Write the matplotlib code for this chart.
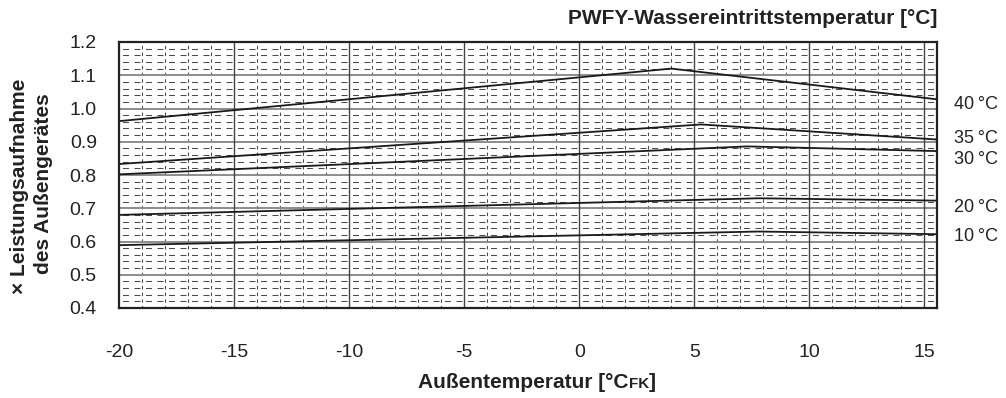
import numpy as np
import matplotlib
matplotlib.use("Agg")
import matplotlib.pyplot as plt

plt.rcParams['font.family'] = ['Liberation Sans', 'DejaVu Sans']
plt.rcParams['lines.scale_dashes'] = False

# Outdoor temperature [°C FK] and power input factors per water inlet temperature
temps_40 = [-20, 4.0, 15.5]
vals_40 = [0.962, 1.120, 1.028]
temps_35 = [-20, 5.3, 15.5]
vals_35 = [0.833, 0.952, 0.907]
temps_30 = [-20, 7.3, 15.5]
vals_30 = [0.802, 0.886, 0.872]
temps_20 = [-20, 7.8, 15.5]
vals_20 = [0.680, 0.730, 0.723]
temps_10 = [-20, 7.8, 15.5]
vals_10 = [0.589, 0.630, 0.622]

series = [("40", temps_40, vals_40), ("35", temps_35, vals_35),
          ("30", temps_30, vals_30), ("20", temps_20, vals_20),
          ("10", temps_10, vals_10)]
series_labels = ["40\u2009°C", "35\u2009°C", "30\u2009°C", "20\u2009°C", "10\u2009°C"]
label_y = [1.013, 0.910, 0.848, 0.702, 0.616]

x_ticks = [-20, -15, -10, -5, 0, 5, 10, 15]
y_ticks = [0.4, 0.5, 0.6, 0.7, 0.8, 0.9, 1.0, 1.1, 1.2]
y_ticklabels = ["0.4", "0.5", "0.6", "0.7", "0.8", "0.9", "1.0", "1.1", "1.2"]

W, H = 1006, 398
fig = plt.figure(figsize=(W / 100, H / 100), dpi=100)
ax = fig.add_axes([119 / W, 1 - 308 / H, (937 - 119) / W, (308 - 42) / H])
ax.set_xlim(-20, 15.55)
ax.set_ylim(0.4, 1.2)

px = 72 / 100  # points per pixel

# minor horizontal grid (every 0.02), short dashes
for v in np.arange(0.42, 1.2, 0.02):
    if abs(v * 10 - round(v * 10)) < 1e-6:
        continue
    ax.axhline(v, color="#4a4a4a", lw=0.75,
               linestyle=(8 * px, (6 * px, 5.5 * px)), zorder=1)

# minor vertical grid (every 1 °C), dashes centred on the horizontal rows
for t in range(-19, 16):
    if t % 5 == 0:
        continue
    ax.axvline(t, color="#4a4a4a", lw=0.75,
               linestyle=(1 * px, (3.5 * px, 3.17 * px)), zorder=1)

# major grid
for v in y_ticks[1:-1]:
    ax.axhline(v, color="#8c8c8c", lw=1.4, zorder=2)
for t in x_ticks[1:]:
    ax.axvline(t, color="#444444", lw=1.0, zorder=2)

for (name, xs, ys) in series:
    ax.plot(xs, ys, color="#1a1a1a", lw=1.3, zorder=3, clip_on=False)

for lab, yv in zip(series_labels, label_y):
    ax.text(15.55 + 0.75, yv, lab, fontsize=13, va="center", ha="left",
            color="#222222")

for s in ax.spines.values():
    s.set_color("#222222")
    s.set_linewidth(1.6)
    s.set_zorder(5)

ax.set_xticks(x_ticks)
ax.set_xticklabels([str(t) for t in x_ticks])
ax.set_yticks(y_ticks)
ax.set_yticklabels(y_ticklabels)
ax.tick_params(axis="both", length=0, labelsize=14, labelcolor="#222222")
ax.tick_params(axis="x", pad=26)
ax.tick_params(axis="y", pad=16)

fig.text(937 / W, 1 - 18 / H, "PWFY-Wassereintrittstemperatur [°C]",
         fontsize=15, fontweight="bold", ha="right", va="center",
         color="#222222")

fig.text(20 / W, 1 - 186 / H, "× Leistungsaufnahme", rotation=90,
         fontsize=15, fontweight="bold", ha="center", va="center",
         color="#222222")
fig.text(44 / W, 1 - 184 / H, "des Außengerätes", rotation=90,
         fontsize=15, fontweight="bold", ha="center", va="center",
         color="#222222")

# x-axis title with the small "FK" index
renderer = fig.canvas.get_renderer()
parts = [("Außentemperatur [°C", 15), ("FK", 11), ("]", 15)]
widths = []
for txt, fs in parts:
    t = fig.text(0, 0, txt, fontsize=fs, fontweight="bold")
    widths.append(t.get_window_extent(renderer).width)
    t.remove()
x0 = 537 - sum(widths) / 2
for (txt, fs), w in zip(parts, widths):
    fig.text(x0 / W, 1 - 388 / H, txt, fontsize=fs, fontweight="bold",
             ha="left", va="baseline", color="#222222")
    x0 += w

fig.savefig("out.png", dpi=100)
